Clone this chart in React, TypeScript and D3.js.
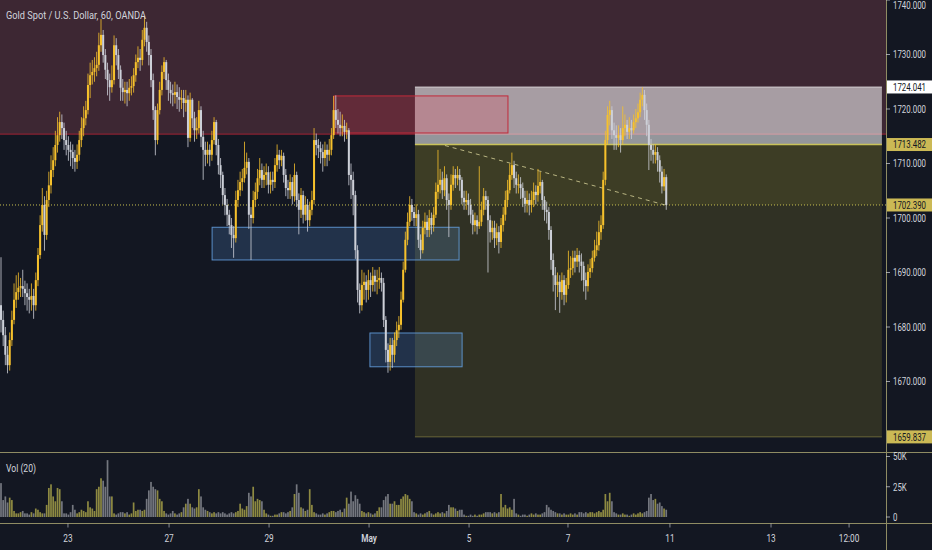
import React from 'react';
import * as d3 from 'd3';

const W = 932;
const H = 550;

// ---------- data ----------
const firstOpen = 1684;

const closes = [
  1681.3,1678.5,1674.9,1673,1677.6,1681.3,1685,1686.4,1687.2,1687.5,
  1687,1686.2,1685.5,1685,1685.7,1684,1688.6,1693.2,1698.7,1702.4,
  1696.9,1703.3,1706,1708.8,1710.6,1713.4,1715.2,1717.6,1716.5,1714.3,
  1713.4,1712.5,1712.1,1711,1710.3,1711.6,1714.3,1716.5,1718.3,1719.8,
  1724.4,1726.2,1726.8,1727.5,1728.1,1731.7,1733.6,1729.9,1727.2,1725.3,
  1724,1725.3,1731.7,1729.9,1727.2,1723.9,1723.1,1723.5,1722.9,1723.9,
  1724.2,1726.2,1728.6,1729.4,1729,1732.7,1734.9,1732.3,1729.9,1725.3,
  1719.8,1714.3,1719.8,1723.5,1726.8,1728.6,1725.3,1723.5,1722.9,1722.6,
  1723.1,1722.2,1721.7,1722,1721.1,1721.7,1714.7,1721.7,1718.3,1716.1,
  1716.5,1719.8,1714.9,1712.5,1711.6,1712.5,1711.6,1714.3,1717.6,1713.4,
  1709.7,1707.9,1704.2,1702.4,1700.6,1698.7,1696.9,1696.3,1703.3,1705.1,
  1706.6,1707.3,1709.2,1710.3,1700.6,1700,1703.3,1704.8,1707.3,1708.8,
  1707,1707.9,1708.4,1706.1,1707,1706.6,1709.7,1711.6,1710.6,1711.4,
  1707.9,1705.5,1705.1,1706.6,1704,1707.9,1703.3,1701.5,1704.2,1700.6,
  1702.4,1699.6,1701.5,1703.3,1714.3,1713.4,1712.8,1712.1,1711,1712.5,
  1711.6,1712.5,1715.2,1719.8,1718,1717.1,1716.5,1716.9,1715.8,1716.1,
  1707.9,1707,1704.2,1694.1,1686.8,1684,1687.7,1688.3,1686.8,1688.6,
  1687.7,1689.4,1688.3,1688.6,1689,1688.1,1681.3,1675.8,1673.6,1676.7,
  1674.9,1677.6,1679.4,1680.4,1685,1690.5,1696,1699.3,1702.4,1701.1,
  1700,1700.7,1696,1694.1,1698.2,1699.3,1697.8,1700,1698.7,1700.6,
  1704.8,1706.1,1707,1705.1,1707.3,1703.3,1702.4,1706.1,1707.9,1707.3,
  1707.9,1707,1703.7,1702.9,1703.3,1702.4,1700.6,1698.7,1699.6,1698.5,
  1699.3,1701.5,1704,1703.3,1699.6,1697.4,1698.2,1696.3,1697.4,1695.6,
  1698.7,1700.6,1703.3,1705.1,1707.9,1709.7,1707.3,1706.1,1706.2,1705.5,
  1703.7,1702.6,1703.3,1702.4,1703.3,1704.8,1704.2,1705.9,1706.6,1703.3,
  1701.5,1701.1,1697.8,1692.3,1689.5,1687.7,1688.3,1686.4,1688.6,1685.9,
  1687.7,1690.5,1690.8,1692.7,1692,1693.2,1692,1691.2,1688.6,1687.5,
  1690.1,1690.8,1692.7,1694.1,1695,1697.4,1698.7,1707,1714.3,1718.9,
  1719.8,1716.1,1715.2,1714.7,1715.2,1714.3,1716.5,1717.1,1715.8,1716.5,
  1716.1,1717.6,1718.3,1719.4,1721.7,1722.6,1719.8,1717.1,1713.4,1712.5,
  1711.6,1712.1,1710.6,1708.5,1705.8,1707.5,1702.39,
];

const highs = [
  1692.8,1683,1680,1676.5,1679,1683,1688,1689.5,1690,1689,
  1690.5,1688.5,1688,1687,1688,1687,1690,1694.5,1700.5,1705.5,
  1704,1705,1708.5,1711.5,1713,1716,1718.5,1719.5,1719,1717.5,
  1716,1715,1714,1713.5,1712.5,1713.5,1716,1718.5,1720.5,1721.5,
  1726.5,1728.5,1729,1729.5,1730.5,1734,1736.5,1734.5,1731,1728.5,
  1726.5,1728,1733.5,1733,1731,1728,1725.5,1725,1725,1725.5,
  1726,1727.5,1730,1731.5,1731,1734.5,1737,1736,1733.5,1731,
  1726.5,1720.5,1721,1725,1728,1729.5,1729,1726.5,1725,1724.5,
  1725,1724.5,1724,1723.5,1723.5,1723.5,1722.5,1723,1722,1719.5,
  1718.5,1721.5,1720.5,1716,1714,1714,1713.5,1716,1718.5,1718,
  1714.5,1711,1708.5,1705.5,1703.5,1701.5,1700,1698.5,1705,1707,
  1708.5,1709,1714,1712,1711,1702,1705,1706.5,1709,1711,
  1710,1709.5,1710,1709.5,1708.5,1708.5,1711,1713.5,1712.5,1712.5,
  1712,1709,1707,1708,1707.5,1710,1708.5,1704.5,1705.5,1705,
  1704,1703.5,1703,1705,1716.5,1715.5,1714.5,1714,1713.5,1714,
  1713.5,1714.5,1716.5,1722.4,1722.5,1720,1719.5,1719,1718,1717.5,
  1716.5,1710,1708.5,1705,1695,1688,1690.5,1690,1689.5,1690.5,
  1690,1691,1690.5,1690.5,1691,1690,1689,1682,1677,1678,
  1678,1679,1681,1682,1686.5,1692,1697.5,1701,1704,1703.5,
  1702,1702.5,1701.5,1697,1699.5,1701,1700.5,1701.5,1701,1702,
  1706.5,1712.5,1709,1708.5,1709.5,1708,1704.5,1708,1709.5,1709,
  1709.5,1709,1707.5,1705,1705,1704.5,1703.5,1701.5,1701,1700.5,
  1709.5,1703,1705.5,1705,1704,1700.5,1699.5,1699.5,1699,1698.5,
  1700,1702,1705,1707,1710,1712,1710.5,1708.5,1708,1707.5,
  1706.5,1705,1705,1704.5,1705,1706.5,1706,1709,1708.5,1707,
  1704,1703,1702,1698.5,1693.5,1691,1690,1689.5,1690,1689.5,
  1689,1694,1693,1694,1694,1694.5,1694,1693.5,1692,1690,
  1691.5,1692.5,1694,1696,1697.5,1699.5,1700.5,1708.5,1716,1720.5,
  1721.5,1720.5,1717.5,1717,1717,1716.5,1720.5,1719,1718,1718.5,
  1718,1719,1720,1721,1723,1724,1723.5,1721,1718,1714.5,
  1713.5,1713.5,1713,1711.5,1709.5,1709,1708,
];

const lows = [
  1679,1676.5,1673,1671.5,1672,1676.5,1680.5,1683.5,1685,1685.5,
  1685.5,1684,1683,1682.5,1683,1681.5,1683,1687.5,1692.5,1697.5,
  1694,1696,1702,1704.5,1707.5,1709.5,1712,1714,1714.5,1712.5,
  1711.5,1710.5,1709.5,1709,1708.5,1709,1710.5,1713,1715,1717,
  1719,1722,1724.5,1725,1726,1727,1730.5,1728.5,1725.5,1722.5,
  1721.5,1723,1724.5,1728,1725.5,1721.5,1721.5,1721,1720.5,1721.5,
  1722.5,1723,1725,1727.5,1727,1728,1731.5,1730.5,1728,1724,
  1718,1711.5,1713.5,1719,1722.5,1725.5,1723.5,1721.5,1721,1720.5,
  1721,1720,1719.5,1720,1718.5,1719.5,1713,1714,1716.5,1714,
  1714.5,1715.5,1713,1707,1709.5,1710,1709.5,1710.5,1713.5,1711.5,
  1708,1705.5,1702.5,1700.5,1698.5,1697,1694.5,1692.7,1695.5,1702,
  1704,1705,1706.5,1708,1698,1692.3,1699,1702,1703.5,1706,
  1705.5,1705.5,1706,1704.5,1704.5,1705,1705.5,1708.5,1709,1709.5,
  1706.5,1704,1703.5,1703.5,1702.5,1703,1702,1697,1700,1699,
  1699.5,1697.5,1698.5,1700.5,1702.5,1711.5,1711,1710,1708.5,1709.5,
  1709.5,1710.5,1711.5,1714.5,1716.5,1715.5,1715,1715,1714,1714.5,
  1706,1703.5,1700.5,1692.5,1684.5,1682.5,1683,1685,1684.5,1685,
  1685.5,1686.5,1686.5,1686,1687,1686.5,1680,1673.5,1671.6,1672,
  1672.5,1673.5,1676.5,1678,1679.5,1684.5,1690,1695,1698.5,1699.5,
  1698.5,1698.5,1694.5,1692.5,1693.5,1697,1696.5,1696.5,1697,1697.5,
  1700,1703.5,1704.5,1703.5,1704,1701.5,1696.5,1701.5,1705,1705.5,
  1706,1705,1702.5,1701.5,1701.5,1700.5,1699,1697,1697.5,1697,
  1698,1698.5,1700.5,1701.5,1690,1695.5,1696,1694.5,1695,1693.5,
  1694.5,1697.5,1699.5,1702,1704.5,1707,1705.5,1704.5,1704.5,1703.5,
  1702,1701,1701,1700.5,1701,1702,1702.5,1703,1704.5,1701.5,
  1699.5,1699,1696,1690.5,1686.5,1683.1,1685.5,1682.6,1685,1684,
  1684.5,1687,1689,1689.5,1690,1691,1690,1688.5,1686.5,1685,
  1686.5,1689,1690,1692,1693,1694,1696,1698,1706,1713.5,
  1717,1714.5,1712.5,1712.5,1713,1712,1713.5,1715,1714.5,1714.5,
  1714.5,1715.5,1716.5,1717.5,1718.5,1720.5,1718,1715,1708.8,1710.5,
  1710,1710,1708.5,1706.5,1704.5,1705,1701.5,
];

// volume in thousands
const volumes = [
  28,14,17,12,16,14,5,3,3,4,
  5,3,3,2,4,3,7,6,4,3,
  3,10,24,27,17,13,24,23,13,3,
  3,2,4,10,6,3,4,6,5,4,
  13,8,7,5,23,25,32,30,25,47,
  17,17,3,2,3,4,4,3,4,2,
  3,12,5,6,6,5,6,15,22,29,
  25,23,22,15,13,5,3,2,3,5,
  3,2,3,4,8,11,15,11,8,7,
  8,23,17,8,6,5,4,3,4,3,
  4,3,4,3,2,3,4,3,4,5,
  11,7,6,9,20,17,25,13,15,14,
  13,6,3,2,1,1,2,2,3,4,
  4,3,4,5,8,19,27,20,8,7,
  5,6,23,10,4,3,2,2,3,2,
  3,4,5,5,4,5,6,4,7,16,
  11,21,13,18,15,11,5,4,3,4,
  3,2,3,5,8,8,14,17,19,11,
  11,13,10,10,15,17,19,18,15,13,
  4,3,2,3,2,3,4,5,3,2,
  3,4,3,4,3,5,10,8,8,7,
  5,6,6,2,1,1,2,1,2,1,
  2,2,3,4,4,4,3,4,3,4,
  19,8,10,7,8,6,15,3,2,1,
  2,2,1,2,3,2,3,2,2,3,
  4,10,8,6,5,4,3,3,2,3,
  2,2,3,2,3,2,4,4,3,4,
  3,4,4,3,4,5,4,6,19,13,
  20,13,4,3,2,2,3,2,2,1,
  2,3,2,3,4,3,4,5,16,19,
  14,15,11,12,9,7,6,
];

const priceTicks = [1740, 1730, 1720, 1710, 1700, 1690, 1680, 1670];
const volumeTicks = [50, 25, 0];
const volumeTickLabels = ['50K', '25K', '0'];
const timeTickIndex = [30.8, 77.3, 123.3, 169.3, 215.3, 260.8, 307.7, 354.2, 390.1];
const timeTickLabels = ['23', '27', '29', 'May', '5', '7', '11', '13', '12:00'];

const targetPrice = 1724.041;
const entryPrice = 1713.482;
const stopPrice = 1659.837;
const lastPrice = 1702.39;
const resistanceZone = [1745, 1715.4];
const positionSpan = [190.4, 405.2];
const redBox = { i0: 153.2, i1: 233.2, p0: 1722.4, p1: 1715.6 };
const blueBoxes = [
  { i0: 97.1, i1: 210.7, p0: 1698.3, p1: 1692.3 },
  { i0: 169.7, i1: 212.1, p0: 1678.9, p1: 1672.7 },
];
const trendLine = { i0: 204.2, p0: 1713.3, i1: 305.4, p1: 1702.4 };

// ---------- styles ----------
const BG = '#131722';
const UP = '#f6c12c';
const DOWN = '#cdd0d8';
const VUP = '#8e8a42';
const VDOWN = '#74777f';
const TEXT = '#d1d4dc';
const FRAME = '#8f8c63';
const LABEL_YELLOW = '#cbb955';
const FONT = 'Roboto, "Noto Sans", sans-serif';

const AXIS_X = 886;
const MAIN_BOTTOM = 452.5;
const VOL_BOTTOM = 523.5;
const LABEL_X = 893;
// Roboto at 11px: "0000.000" is about 46px wide; the reference shows it 33px wide
const AXIS_SQUEEZE = 0.715;

function AxisText({ x, y, text, fill }: { x: number; y: number; text: string; fill: string }) {
  return (
    <g transform={`translate(${x},${y}) scale(${AXIS_SQUEEZE},1)`}>
      <text x={0} y={0} dy="0.36em" fontSize={11} fill={fill} fontFamily={FONT}>{text}</text>
    </g>
  );
}

export default function App() {
  const x = d3.scaleLinear().domain([0, 428]).range([1, 1 + 428 * 2.174]);
  const y = d3.scaleLinear().domain([1660, 1740]).range([436, 0]);
  const v = d3.scaleLinear().domain([0, 50]).range([517, 456.5]);

  const opens = closes.map((c, i) => (i === 0 ? firstOpen : closes[i - 1]));
  const px0 = x(positionSpan[0]);
  const pw = x(positionSpan[1]) - px0;

  const priceLabel = (p: number, bg: string, fg: string) => {
    const cy = y(p);
    return (
      <g key={'pl' + p}>
        <rect x={AXIS_X + 1} y={cy - 6.5} width={W - AXIS_X - 1} height={13} fill={bg} />
        <AxisText x={LABEL_X} y={cy} text={p.toFixed(3)} fill={fg} />
      </g>
    );
  };

  return (
    <svg width={W} height={H} style={{ position: 'absolute', left: 0, top: 0, display: 'block' }}>
      <rect x={0} y={0} width={W} height={H} fill={BG} />

      {/* resistance zone */}
      <rect x={0} y={y(resistanceZone[0])} width={AXIS_X} height={y(resistanceZone[1]) - y(resistanceZone[0])} fill="#3d2733" />
      <line x1={0} x2={AXIS_X} y1={y(resistanceZone[1])} y2={y(resistanceZone[1])} stroke="#8a2232" strokeWidth={1.2} />

      {/* long position tool */}
      <rect x={px0} y={y(entryPrice)} width={pw} height={y(stopPrice) - y(entryPrice)} fill="rgba(165,155,45,0.2)" />
      <rect x={px0} y={y(entryPrice)} width={pw} height={y(lastPrice) - y(entryPrice)} fill="rgba(175,165,50,0.1)" />
      <line x1={px0} x2={px0 + pw} y1={y(stopPrice)} y2={y(stopPrice)} stroke="rgba(190,180,80,0.45)" />
      <rect x={px0} y={y(targetPrice)} width={pw} height={y(entryPrice) - y(targetPrice)} fill="rgba(255,255,255,0.55)" />
      <line x1={px0} x2={px0 + pw} y1={y(targetPrice)} y2={y(targetPrice)} stroke="rgba(255,255,255,0.6)" />
      <line x1={px0} x2={px0 + pw} y1={y(entryPrice)} y2={y(entryPrice)} stroke="#c9c35a" strokeWidth={1.5} />

      {/* red supply box */}
      <rect x={x(redBox.i0)} y={y(redBox.p0)} width={x(redBox.i1) - x(redBox.i0)} height={y(redBox.p1) - y(redBox.p0)}
        fill="rgba(230,60,80,0.22)" stroke="#c22a3a" strokeWidth={1} />

      {/* blue demand boxes */}
      {blueBoxes.map((b, k) => (
        <rect key={'bb' + k} x={x(b.i0)} y={y(b.p0)} width={x(b.i1) - x(b.i0)} height={y(b.p1) - y(b.p0)}
          fill="rgba(90,150,220,0.22)" stroke="rgba(100,160,225,0.85)" strokeWidth={1} />
      ))}

      {/* last price line */}
      <line x1={0} x2={AXIS_X} y1={y(lastPrice)} y2={y(lastPrice)} stroke="#c8c050" strokeWidth={1} strokeDasharray="1 2" />

      {/* trend line */}
      <line x1={x(trendLine.i0)} y1={y(trendLine.p0)} x2={x(trendLine.i1)} y2={y(trendLine.p1)}
        stroke="rgba(225,220,160,0.75)" strokeWidth={1} strokeDasharray="4 4" />

      {/* candles */}
      {closes.map((c, i) => {
        const o = opens[i];
        const up = c >= o;
        const col = up ? UP : DOWN;
        const cx = x(i);
        const top = y(Math.max(o, c));
        const bot = y(Math.min(o, c));
        return (
          <g key={'c' + i}>
            <line x1={cx} x2={cx} y1={y(highs[i])} y2={y(lows[i])} stroke={col} strokeOpacity={0.8} strokeWidth={1} />
            <rect x={cx - 1} y={top} width={2} height={Math.max(1.2, bot - top)} fill={col} />
          </g>
        );
      })}

      {/* volume */}
      {volumes.map((vol, i) => {
        const up = closes[i] >= opens[i];
        return (
          <rect key={'v' + i} x={x(i) - 0.85} width={1.7} y={v(vol)} height={v(0) - v(vol)} fill={up ? VUP : VDOWN} />
        );
      })}

      {/* frame */}
      <line x1={0} x2={W} y1={MAIN_BOTTOM} y2={MAIN_BOTTOM} stroke={FRAME} strokeWidth={1.2} />
      <line x1={0} x2={W} y1={VOL_BOTTOM} y2={VOL_BOTTOM} stroke={FRAME} strokeWidth={1.2} />
      <line x1={AXIS_X + 0.5} x2={AXIS_X + 0.5} y1={0} y2={H} stroke={FRAME} strokeWidth={1} />

      {/* price axis */}
      {priceTicks.map((p) => (
        <g key={'pt' + p}>
          <line x1={AXIS_X} x2={AXIS_X + 4} y1={y(p)} y2={y(p)} stroke={TEXT} strokeOpacity={0.7} />
          <AxisText x={LABEL_X} y={Math.max(y(p), 5)} text={p.toFixed(3)} fill={TEXT} />
        </g>
      ))}
      {priceLabel(targetPrice, '#ffffff', '#131722')}
      {priceLabel(entryPrice, LABEL_YELLOW, '#131722')}
      {priceLabel(lastPrice, LABEL_YELLOW, '#131722')}
      {priceLabel(stopPrice, LABEL_YELLOW, '#131722')}

      {/* volume axis */}
      {volumeTicks.map((t, k) => (
        <g key={'vt' + t}>
          <line x1={AXIS_X} x2={AXIS_X + 4} y1={v(t)} y2={v(t)} stroke={TEXT} strokeOpacity={0.7} />
          <AxisText x={LABEL_X} y={v(t)} text={volumeTickLabels[k]} fill={TEXT} />
        </g>
      ))}

      {/* time axis */}
      {timeTickIndex.map((ti, k) => {
        const lbl = timeTickLabels[k];
        return (
          <g key={'tt' + k}>
            <line x1={x(ti)} x2={x(ti)} y1={VOL_BOTTOM} y2={VOL_BOTTOM + 4} stroke={TEXT} strokeOpacity={0.6} />
            <g transform={`translate(${x(ti)},542) scale(0.75,1)`}>
              <text x={0} y={0} textAnchor="middle" fontSize={11} fill={TEXT} fontFamily={FONT}
                fontWeight={lbl === 'May' ? 600 : 400}>{lbl}</text>
            </g>
          </g>
        );
      })}

      {/* titles */}
      <text x={6} y={19} fontSize={11} fill={TEXT} fontFamily={FONT} textLength={140} lengthAdjust="spacingAndGlyphs">
        Gold Spot / U.S. Dollar, 60, OANDA
      </text>
      <text x={6} y={472} fontSize={11} fill={TEXT} fontFamily={FONT} textLength={30} lengthAdjust="spacingAndGlyphs">
        Vol (20)
      </text>
    </svg>
  );
}
